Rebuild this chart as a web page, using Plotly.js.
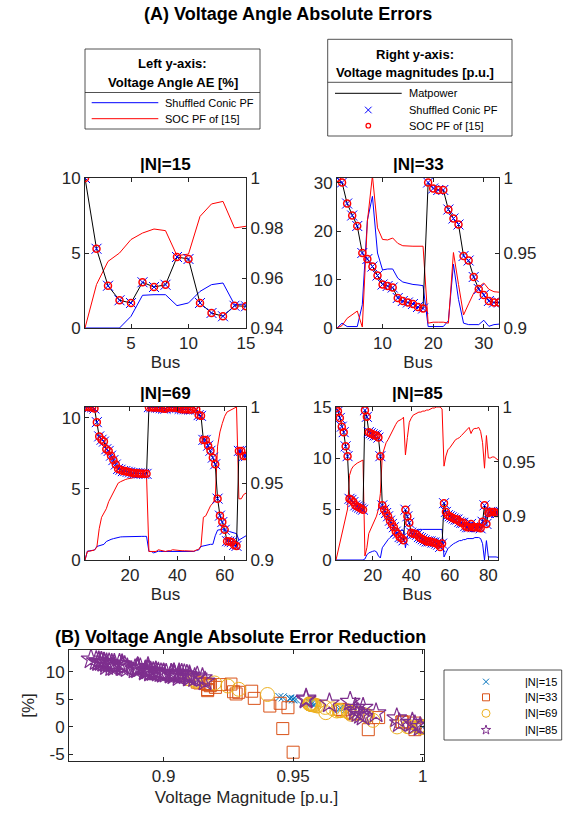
<!DOCTYPE html>
<html><head><meta charset="utf-8">
<script src="https://cdn.plot.ly/plotly-3.0.1.min.js"></script>
<style>html,body{margin:0;padding:0;background:#fff}#chart{width:575px;height:814px}</style>
</head><body><div id="chart"></div>
<script>
// ---------------- DATA ----------------
const bus15 = [1,2,3,4,5,6,7,8,9,10,11,12,13,14,15];
const bus33 = [1,2,3,4,5,6,7,8,9,10,11,12,13,14,15,16,17,18,19,20,21,22,23,24,25,26,27,28,29,30,31,32,33];
const bus69 = [1,2,3,4,5,6,7,8,9,10,11,12,13,14,15,16,17,18,19,20,21,22,23,24,25,26,27,28,29,30,31,32,33,34,35,36,37,38,39,40,41,42,43,44,45,46,47,48,49,50,51,52,53,54,55,56,57,58,59,60,61,62,63,64,65,66,67,68,69];
const bus85 = [1,2,3,4,5,6,7,8,9,10,11,12,13,14,15,16,17,18,19,20,21,22,23,24,25,26,27,28,29,30,31,32,33,34,35,36,37,38,39,40,41,42,43,44,45,46,47,48,49,50,51,52,53,54,55,56,57,58,59,60,61,62,63,64,65,66,67,68,69,70,71,72,73,74,75,76,77,78,79,80,81,82,83,84,85];

// Voltage magnitudes [p.u.] (right axis)
const vm15 = [1.000,0.9717,0.9569,0.9511,0.9500,0.9583,0.9564,0.9573,0.9684,0.9676,0.9500,0.9460,0.9447,0.9489,0.9487];
const vm33 = [1.000,0.997,0.983,0.975,0.968,0.950,0.946,0.941,0.935,0.929,0.928,0.927,0.920,0.918,0.917,0.916,0.914,0.913,0.997,0.993,0.992,0.992,0.979,0.973,0.969,0.948,0.945,0.934,0.926,0.922,0.918,0.917,0.917];
const vm69 = [1.0000,1.0000,0.9999,0.9998,0.9990,0.9901,0.9808,0.9786,0.9774,0.9724,0.9713,0.9682,0.9653,0.9624,0.9595,0.9590,0.9581,0.9581,0.9576,0.9573,0.9568,0.9568,0.9567,0.9566,0.9564,0.9563,0.9563,0.9999,0.9999,0.9997,0.9997,0.9996,0.9993,0.9990,0.9989,0.9999,0.9997,0.9996,0.9995,0.9995,0.9988,0.9986,0.9985,0.9985,0.9984,0.9984,0.9998,0.9985,0.9947,0.9942,0.9785,0.9785,0.9747,0.9714,0.9669,0.9626,0.9401,0.9290,0.9248,0.9197,0.9123,0.9121,0.9117,0.9098,0.9092,0.9713,0.9713,0.9679,0.9679];
const vm85 = [0.999,0.996,0.990,0.982,0.977,0.964,0.955,0.916,0.915,0.913,0.910,0.909,0.908,0.907,0.906,0.997,0.991,0.977,0.976,0.975,0.974,0.974,0.972,0.955,0.910,0.906,0.903,0.900,0.896,0.893,0.890,0.886,0.884,0.881,0.880,0.878,0.906,0.900,0.894,0.885,0.884,0.884,0.883,0.881,0.880,0.879,0.878,0.877,0.877,0.877,0.876,0.876,0.875,0.874,0.872,0.875,0.912,0.904,0.901,0.900,0.899,0.898,0.897,0.897,0.895,0.894,0.894,0.891,0.890,0.890,0.893,0.890,0.890,0.890,0.890,0.889,0.895,0.910,0.893,0.903,0.904,0.904,0.904,0.903,0.903];

// Voltage angle absolute errors [%] (left axis)
const shuffledAE15 = [0,0,0,0,0.78,2.18,2.22,2.22,1.49,1.67,2.44,2.89,3.0,1.56,1.6];
const socAE15 = [0,2.9,4.44,5.0,5.9,6.33,6.6,6.49,4.82,4.93,7.44,8.27,8.44,6.67,6.78];
const shuffledAE33 = [0,1.0,0.3,0.3,0.3,4.8,22.3,27.2,15.5,12.0,12.2,12.2,10.3,9.5,9.2,9.0,8.9,8.75,0.3,0.3,0.3,0.3,1.5,13.2,5.9,1.0,0.7,0.7,0.7,1.6,0.35,0.7,0.8];
const socAE33 = [0,0.5,2.0,2.8,3.5,0.2,22,31.5,20.7,18.3,18.2,18.6,17.5,17.0,16.9,16.9,16.9,16.9,1.0,1.2,1.2,1.2,1.0,15.6,9.0,2.7,5.0,7.2,8.5,9.3,8.0,7.5,7.4];
const shuffledAE69 = [0,0.62,0.65,0.65,0.7,0.95,1.0,1.05,1.1,1.3,1.4,1.45,1.5,1.55,1.6,1.62,1.63,1.64,1.64,1.65,1.65,1.65,1.65,1.66,1.66,1.66,1.66,0.6,0.6,0.5,0.55,0.62,0.6,0.6,0.6,0.6,0.62,0.62,0.62,0.6,0.6,0.6,0.6,0.62,0.62,0.62,0.6,0.68,0.7,0.95,1.0,1.0,1.05,1.1,1.1,1.7,2.1,2.15,2.15,2.1,2.1,2.0,1.95,1.9,1.85,1.4,1.5,1.6,1.7];
const socAE69 = [0,0.6,0.62,0.65,0.7,0.9,2.2,3.0,3.3,3.6,4.1,4.4,4.8,5.1,5.4,5.5,5.6,5.65,5.7,5.75,5.8,5.8,5.82,5.83,5.85,5.85,5.87,0.6,0.6,0.55,0.6,0.72,0.68,0.62,0.6,0.65,0.65,0.72,0.7,0.65,0.66,0.65,0.65,0.65,0.66,0.66,0.62,0.7,0.75,1.0,3.0,3.1,3.5,3.8,4.0,4.3,8.0,9.0,9.6,10.1,10.4,10.5,10.6,10.65,10.75,4.3,4.3,4.6,4.7];
const shuffledAE85 = [0,0,0,0,0,0,0,0,0,0,0,0,0,0,0,0.1,0.5,0.7,0.8,0.85,0.9,0.8,0.4,0.2,1.2,1.5,1.8,2.0,2.2,2.4,2.5,2.6,2.7,2.8,2.9,2.9,1.2,2.3,2.6,2.8,2.85,2.9,2.9,3.0,3.0,3.0,3.0,3.0,3.0,3.05,3.05,3.05,3.05,3.0,3.0,3.0,0.3,0.8,1.1,1.3,1.5,1.6,1.7,1.8,1.9,1.9,2.0,2.0,2.1,2.1,2.1,2.1,2.2,2.2,2.2,2.1,1.6,0.0,1.9,0.3,0.3,0.35,0.3,0.3,0.25];
const socAE85 = [0,0.8,1.6,2.5,3.5,4.3,5.0,8.3,8.9,9.2,9.4,9.5,9.6,9.7,9.8,0.4,1.2,2.6,3.0,3.4,3.8,4.3,5.0,6.5,10.3,11.0,11.5,11.8,12.2,12.5,13.0,13.3,13.6,13.7,13.8,14.0,10.3,12.0,13.5,13.9,14.2,14.3,14.4,14.5,14.5,14.6,14.6,14.7,14.7,14.8,14.9,14.9,15.0,15.0,15.0,14.8,9.2,10.2,10.8,11.0,11.3,11.5,11.8,11.9,12.0,12.2,12.4,12.7,12.9,13.0,12.4,12.8,12.9,12.9,13.0,12.6,11.5,9.0,12.2,10.0,10.0,10.1,10.1,9.9,9.8];

// (B) Voltage angle absolute error reduction [%]
const reduction15 = [0,2.9,4.44,5.0,5.12,4.15,4.38,4.27,3.33,3.26,5.0,5.38,5.44,5.11,5.18];
const reduction33 = [0,-0.5,1.7,2.5,3.2,-4.6,-0.3,3.8,5.2,6.3,6.0,6.4,7.2,7.5,7.7,7.9,8.0,8.15,0.7,0.9,0.9,0.9,-0.5,2.4,3.1,3.5,4.3,6.5,7.8,7.7,7.65,6.8,6.6];
const reduction69 = [0,0,0,0,0,0,1.2,1.95,2.2,2.3,2.7,2.95,3.3,3.55,3.8,3.88,3.97,4.01,4.06,4.1,4.15,4.15,4.17,4.17,4.19,4.19,4.21,0,0,0.05,0.05,0.1,0.08,0.02,0,0.05,0.03,0.1,0.08,0.05,0.06,0.05,0.05,0.03,0.04,0.04,0.02,0.02,0.05,0.05,2.0,2.1,2.45,2.7,2.9,2.6,5.9,6.85,7.45,8.0,8.3,8.5,8.65,8.75,8.85,2.9,2.8,3.0,3.0];
const reduction85 = [0,0.8,1.6,2.5,3.5,4.3,5.0,8.3,8.9,9.2,9.4,9.5,9.6,9.7,9.8,0.3,0.7,1.9,2.2,2.55,2.9,3.5,4.6,5.2,9.1,9.5,9.7,9.8,10.0,10.1,10.5,10.7,10.9,10.9,10.9,11.1,9.1,9.7,10.9,11.1,11.35,11.4,11.5,11.5,11.5,11.6,11.6,11.7,11.7,11.75,11.85,11.85,11.95,12.0,12.3,11.8,8.9,9.4,9.7,9.7,9.8,9.9,10.1,10.1,10.1,10.3,10.4,10.7,10.8,10.9,10.3,10.7,10.7,10.7,10.8,10.5,9.9,9.0,10.3,9.7,9.7,9.75,9.8,9.6,9.55];

const panelTitles = ['|N|=15','|N|=33','|N|=69','|N|=85'];
const legendLeft = ['Shuffled Conic PF','SOC PF of [15]'];
const legendRight = ['Matpower','Shuffled Conic PF','SOC PF of [15]'];
const legendB = ['|N|=15','|N|=33','|N|=69','|N|=85'];

// ---------------- LAYOUT HELPERS ----------------
const FONT = 'Liberation Sans, Arial, Helvetica, sans-serif';
const W = 575, H = 814;
const px = v => v / W;
const py = v => 1 - v / H;
const AX = '#262626';
const tickFont = {family: FONT, size: 17, color: AX};

function xAxis(l, r, range, tv, anchor, title, standoff) {
  return {domain:[px(l), px(r)], range, tickvals:tv, ticktext:tv.map(String), anchor,
    ticks:'inside', ticklen:4, tickcolor:AX, showline:true, linecolor:AX, linewidth:1,
    mirror:'ticks', showgrid:false, zeroline:false, tickfont:tickFont,
    title:{text:title, font:{family:FONT, size:17, color:AX}, standoff:standoff}};
}
function yAxis(t, b, range, tv, tt, anchor, extra) {
  return Object.assign({domain:[py(b), py(t)], range, tickvals:tv, ticktext:tt, anchor,
    ticks:'inside', ticklen:4, tickcolor:AX, showline:true, linecolor:AX, linewidth:1,
    showgrid:false, zeroline:false, tickfont:tickFont}, extra || {});
}

function panel(xa, yl, yr, bus, blue, red, vm) {
  return [
    {x:bus, y:blue, xaxis:xa, yaxis:yl, type:'scatter', mode:'lines', name:legendLeft[0], line:{color:'#0000FF', width:1}},
    {x:bus, y:red, xaxis:xa, yaxis:yl, type:'scatter', mode:'lines', name:legendLeft[1], line:{color:'#FF0000', width:1}},
    {x:bus, y:vm, xaxis:xa, yaxis:yr, type:'scatter', mode:'lines', name:legendRight[0], line:{color:'#000000', width:1}},
    {x:bus, y:vm, xaxis:xa, yaxis:yr, type:'scatter', mode:'markers', name:legendRight[1],
      marker:{symbol:'x-thin-open', size:10, color:'#0000FF', line:{color:'#0000FF', width:1}}},
    {x:bus, y:vm, xaxis:xa, yaxis:yr, type:'scatter', mode:'markers', name:legendRight[2],
      marker:{symbol:'circle-open', size:7, color:'#FF0000', line:{color:'#FF0000', width:1.5}}}
  ];
}

const traces = [].concat(
  panel('x','y','y2', bus15, shuffledAE15, socAE15, vm15),
  panel('x2','y3','y4', bus33, shuffledAE33, socAE33, vm33),
  panel('x3','y5','y6', bus69, shuffledAE69, socAE69, vm69),
  panel('x4','y7','y8', bus85, shuffledAE85, socAE85, vm85),
  [
    {x:vm15, y:reduction15, xaxis:'x5', yaxis:'y9', type:'scatter', mode:'markers', name:legendB[0],
      marker:{symbol:'x-thin-open', size:8, color:'#0072BD', line:{color:'#0072BD', width:1}}},
    {x:vm33, y:reduction33, xaxis:'x5', yaxis:'y9', type:'scatter', mode:'markers', name:legendB[1],
      marker:{symbol:'square-open', size:12, color:'#D95319', line:{color:'#D95319', width:1}}},
    {x:vm69, y:reduction69, xaxis:'x5', yaxis:'y9', type:'scatter', mode:'markers', name:legendB[2],
      marker:{symbol:'circle-open', size:14, color:'#EDB120', line:{color:'#EDB120', width:1}}},
    {x:vm85, y:reduction85, xaxis:'x5', yaxis:'y9', type:'scatter', mode:'markers', name:legendB[3],
      marker:{symbol:'star-open', size:15, color:'#7E2F8E', line:{color:'#7E2F8E', width:1.2}}}
  ]
);

// panel pixel boxes
const P1 = {l:85, r:246, t:178, b:328};
const P2 = {l:337, r:499, t:178, b:328};
const P3 = {l:85, r:246, t:407, b:560};
const P4 = {l:336, r:498, t:407, b:560};
const PB = {l:69, r:424, t:650, b:761};

const layout = {
  width:W, height:H, margin:{l:0, r:0, t:0, b:0}, showlegend:false,
  paper_bgcolor:'#fff', plot_bgcolor:'rgba(0,0,0,0)', font:{family:FONT, color:'#000'},
  xaxis: xAxis(P1.l, P1.r, [1,15], [5,10,15], 'y', 'Bus', 2),
  yaxis: yAxis(P1.t, P1.b, [0,10], [0,5,10], ['0','5','10'], 'x'),
  yaxis2: yAxis(P1.t, P1.b, [0.94,1], [0.94,0.96,0.98,1], ['0.94','0.96','0.98','1'], 'x', {overlaying:'y', side:'right'}),
  xaxis2: xAxis(P2.l, P2.r, [1,33], [10,20,30], 'y3', 'Bus', 2),
  yaxis3: yAxis(P2.t, P2.b, [0,31], [0,10,20,30], ['0','10','20','30'], 'x2'),
  yaxis4: yAxis(P2.t, P2.b, [0.9,1], [0.9,0.95,1], ['0.9','0.95','1'], 'x2', {overlaying:'y3', side:'right'}),
  xaxis3: xAxis(P3.l, P3.r, [1,69], [20,40,60], 'y5', 'Bus', 2),
  yaxis5: yAxis(P3.t, P3.b, [0,10.75], [0,5,10], ['0','5','10'], 'x3'),
  yaxis6: yAxis(P3.t, P3.b, [0.9,1], [0.9,0.95,1], ['0.9','0.95','1'], 'x3', {overlaying:'y5', side:'right'}),
  xaxis4: xAxis(P4.l, P4.r, [1,85], [20,40,60,80], 'y7', 'Bus', 2),
  yaxis7: yAxis(P4.t, P4.b, [0,15], [0,5,10,15], ['0','5','10','15'], 'x4'),
  yaxis8: yAxis(P4.t, P4.b, [0.86,1], [0.9,0.95,1], ['0.9','0.95','1'], 'x4', {overlaying:'y7', side:'right'}),
  xaxis5: xAxis(PB.l, PB.r, [0.8635,1.0005], [0.9,0.95,1], 'y9', 'Voltage Magnitude [p.u.]', 5),
  yaxis9: yAxis(PB.t, PB.b, [-6.2,14], [-5,0,5,10], ['-5','0','5','10'], 'x5',
    {mirror:'ticks', title:{text:'[%]', font:{family:FONT, size:17, color:AX}, standoff:6}}),
  shapes:[], annotations:[]
};

function ann(x, y, text, size, opts) {
  layout.annotations.push(Object.assign({xref:'paper', yref:'paper', x:px(x), y:py(y), text,
    showarrow:false, font:{family:FONT, size, color:'#000'}, xanchor:'center', yanchor:'middle'}, opts || {}));
}
function line(x0, y0, x1, y1, color, width) {
  layout.shapes.push({type:'line', xref:'paper', yref:'paper', x0:px(x0), y0:py(y0), x1:px(x1), y1:py(y1),
    line:{color, width}});
}
function rect(x0, y0, x1, y1, color, width, fill) {
  layout.shapes.push({type:'rect', xref:'paper', yref:'paper', x0:px(x0), y0:py(y1), x1:px(x1), y1:py(y0),
    line:{color, width}, fillcolor:fill || 'rgba(0,0,0,0)'});
}
function circ(cx, cy, r, color, width) {
  layout.shapes.push({type:'circle', xref:'paper', yref:'paper', x0:px(cx-r), y0:py(cy+r), x1:px(cx+r), y1:py(cy-r),
    line:{color, width}});
}
function cross(cx, cy, s, color, width) {
  line(cx-s, cy-s, cx+s, cy+s, color, width);
  line(cx-s, cy+s, cx+s, cy-s, color, width);
}
function star(cx, cy, R, color, width) {
  const r = R * 0.382; let d = '';
  for (let i = 0; i < 10; i++) {
    const a = (-90 + i * 36) * Math.PI / 180, rr = i % 2 ? r : R;
    d += (i ? 'L' : 'M') + px(cx + rr * Math.cos(a)).toFixed(5) + ',' + py(cy + rr * Math.sin(a)).toFixed(5);
  }
  layout.shapes.push({type:'path', xref:'paper', yref:'paper', path:d + 'Z', line:{color, width}});
}

// Titles
ann(287.5, 14, '<b>(A) Voltage Angle Absolute Errors</b>', 18);
ann((P1.l+P1.r)/2, 164, '<b>'+panelTitles[0]+'</b>', 17);
ann((P2.l+P2.r)/2, 164, '<b>'+panelTitles[1]+'</b>', 17);
ann((P3.l+P3.r)/2, 393, '<b>'+panelTitles[2]+'</b>', 17);
ann((P4.l+P4.r)/2, 393, '<b>'+panelTitles[3]+'</b>', 17);
ann(240, 637, '<b>(B) Voltage Angle Absolute Error Reduction</b>', 18);

// Legend: left y-axis
rect(85, 49, 260, 129, AX, 0.8, '#fff');
line(85, 92.5, 260, 92.5, AX, 0.8);
ann(172.5, 63.5, '<b>Left y-axis:</b>', 13);
ann(172.5, 82, '<b>Voltage Angle AE [%]</b>', 13);
line(91.7, 102.7, 158.3, 102.7, '#0000FF', 1);
line(91.7, 118.7, 158.3, 118.7, '#FF0000', 1);
ann(163.3, 102.7, legendLeft[0], 11, {xanchor:'left'});
ann(163.3, 118.7, legendLeft[1], 11, {xanchor:'left'});

// Legend: right y-axis
rect(327.7, 39.3, 512, 136, AX, 0.8, '#fff');
line(327.7, 82.3, 512, 82.3, AX, 0.8);
ann(415, 54, '<b>Right y-axis:</b>', 13);
ann(415, 72.5, '<b>Voltage magnitudes [p.u.]</b>', 13);
line(335, 93.3, 401.7, 93.3, '#000000', 1);
cross(368.3, 110, 3.3, '#0000FF', 1);
circ(368.3, 125.7, 2.3, '#FF0000', 1.2);
ann(406.7, 93.3, legendRight[0], 11, {xanchor:'left'});
ann(406.7, 110, legendRight[1], 11, {xanchor:'left'});
ann(406.7, 125.7, legendRight[2], 11, {xanchor:'left'});

// Legend: panel B
rect(444, 670, 561.7, 740, AX, 0.8, '#fff');
cross(486, 681.7, 3, '#0072BD', 1);
rect(482.5, 693.8, 489.5, 700.8, '#D95319', 1);
circ(486, 713.3, 4, '#EDB120', 1);
star(486, 730, 5, '#7E2F8E', 1);
legendB.forEach((t, i) => ann(523.3, [681.7, 697.3, 713.3, 730][i], t, 11, {xanchor:'left'}));

Plotly.newPlot('chart', traces, layout, {displayModeBar:false, staticPlot:true});
</script>
</body></html>
